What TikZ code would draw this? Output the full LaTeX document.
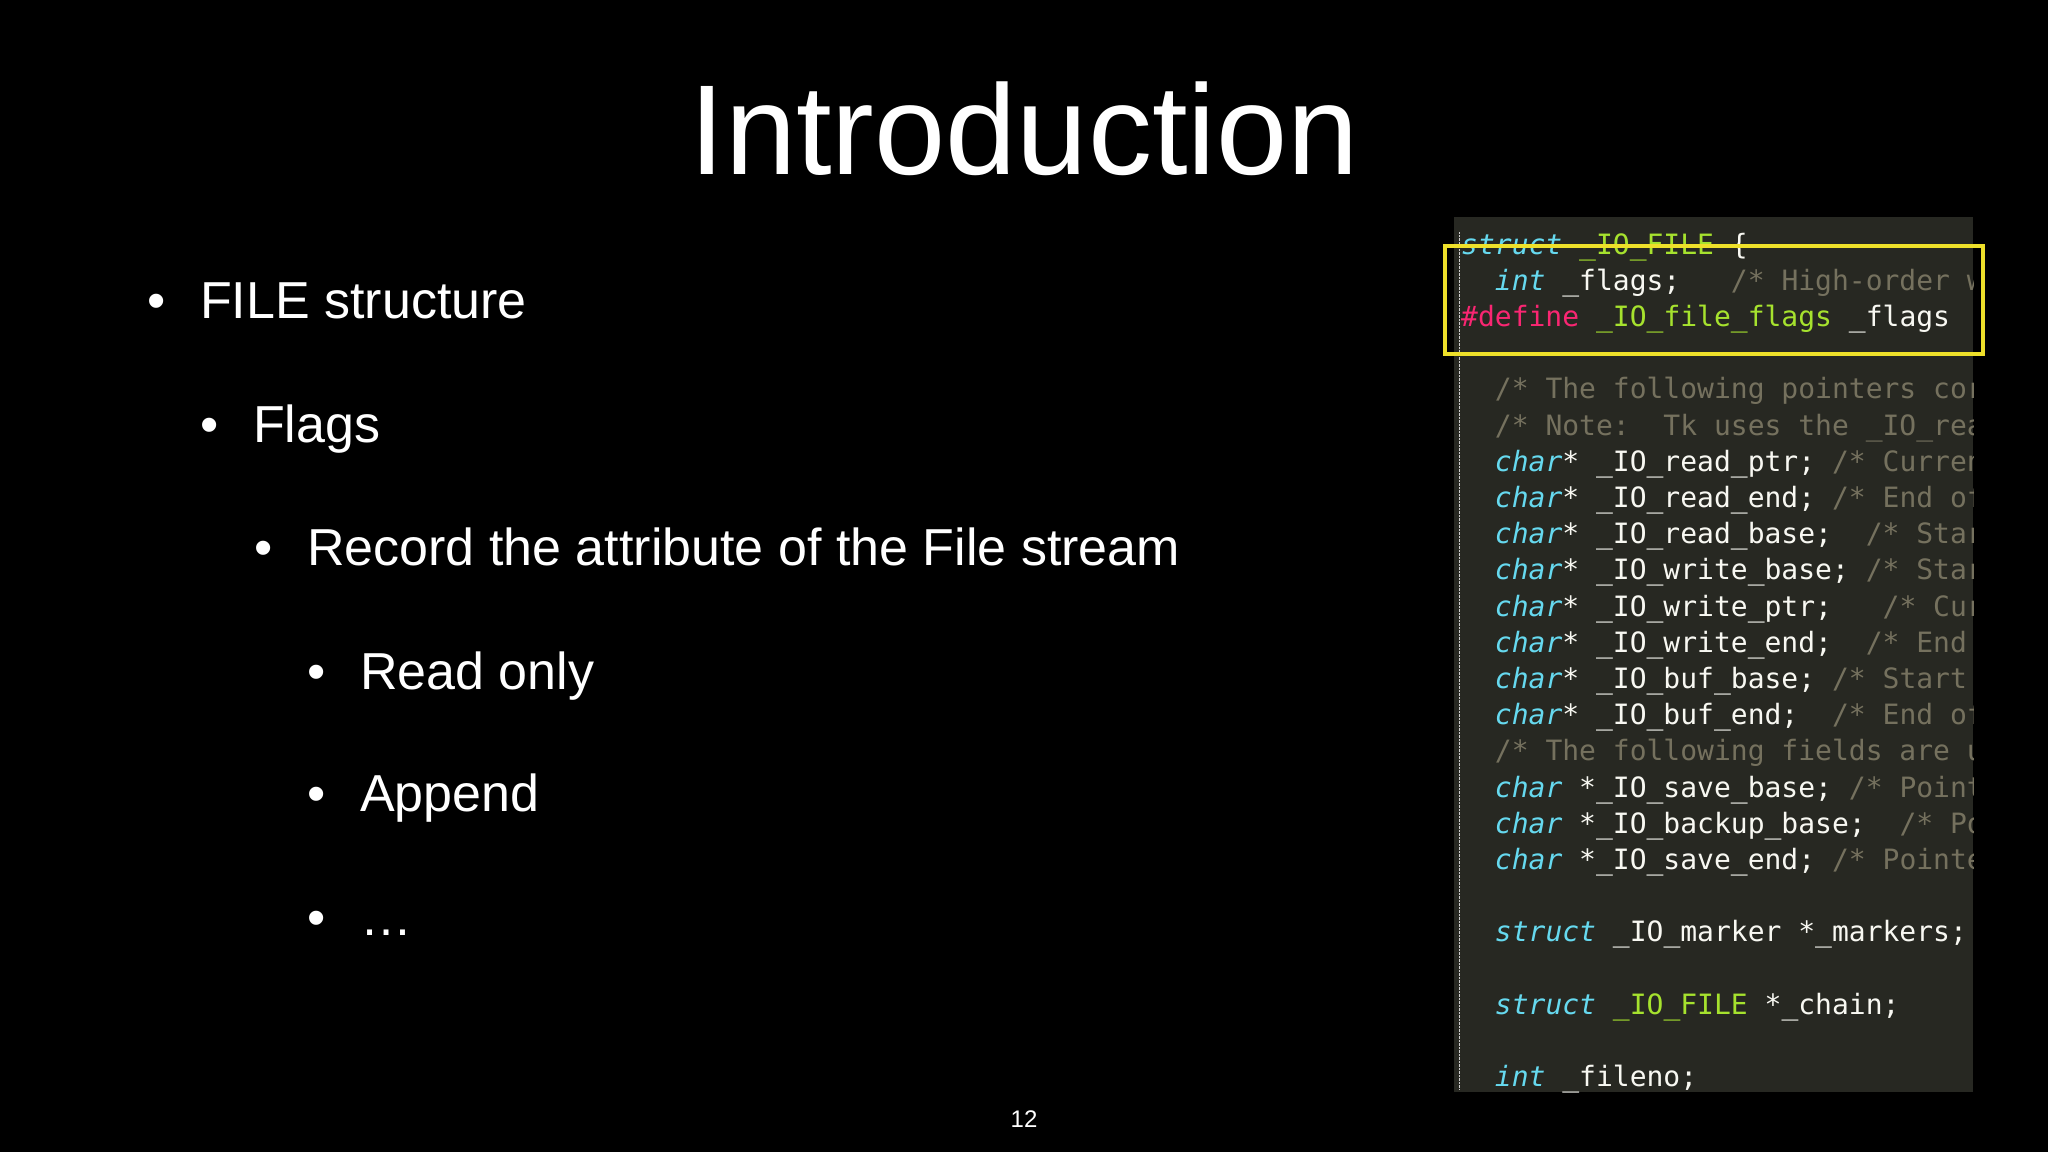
\documentclass[tikz,border=0pt]{standalone}
\usepackage{fontspec}
\setmainfont{Liberation Sans}
\newfontfamily\codef{DejaVu Sans Mono}
\definecolor{pbg}{HTML}{272822}
\definecolor{kwc}{HTML}{66D9EF}
\definecolor{grc}{HTML}{A6E22E}
\definecolor{pkc}{HTML}{F92672}
\definecolor{cmc}{HTML}{75715E}
\definecolor{txc}{HTML}{F8F8F2}
\definecolor{ylc}{HTML}{EEE02A}
\newcommand\kw[1]{\textcolor{kwc}{\itshape #1}}
\newcommand\gr[1]{\textcolor{grc}{#1}}
\newcommand\cm[1]{\textcolor{cmc}{#1}}
\newcommand\us{\_}
\begin{document}
\begin{tikzpicture}[x=1pt,y=-1pt,
  bul/.style={anchor=base west,text=white,font=\fontsize{52}{60}\selectfont,inner sep=0pt},
  dot/.style={anchor=base,text=white,font=\fontsize{52}{60}\selectfont,inner sep=0pt},
  cl/.style={anchor=base west,text=txc,font=\codef\fontsize{28}{32}\selectfont,inner sep=0pt}]
\fill[black] (0,0) rectangle (2048,1152);
\useasboundingbox (0,0) rectangle (2048,1152);
\node[anchor=base,text=white,font=\fontsize{128}{134}\selectfont,inner sep=0pt] (title) at (1024,174) {Introduction};
\node[dot] (d1) at (157,318) {•}; \node[bul] (t1) at (200,318) {FILE structure};
\node[dot] (d2) at (210,442) {•}; \node[bul] (t2) at (253,442) {Flags};
\node[dot] (d3) at (264,565) {•}; \node[bul] (t3) at (307,565) {Record the attribute of the File stream};
\node[dot] (d4) at (317,689) {•}; \node[bul] (t4) at (360,689) {Read only};
\node[dot] (d5) at (317,811) {•}; \node[bul] (t5) at (360,811) {Append};
\node[dot] (d6) at (317,935) {•}; \node[bul] (t6) at (360,935) {\ldots};
\node[anchor=base,text=white,font=\fontsize{24}{28}\selectfont,inner sep=0pt] (pg) at (1024,1127) {12};
\fill[pbg] (1454,217) rectangle (1973,1092);
\draw[gray!40,densely dotted] (1459,232) -- (1459,1090);
\begin{scope}
\clip (1454,217) rectangle (1973,1092);
\def\bx{1461}
\node[cl] (l0) at (\bx,{242+0*36.2+12}) {\kw{struct} \gr{\us IO\us FILE} \{};
\node[cl] (l1) at (\bx,{242+1*36.2+12}) {~~\kw{int} \us flags;~~~\cm{/* High-order word is \us IO\us MAGIC}};
\node[cl] (l2) at (\bx,{242+2*36.2+12}) {\textcolor{pkc}{\#define} \gr{\us IO\us file\us flags} \us flags};
\node[cl] (l4) at (\bx,{242+4*36.2+12}) {~~\cm{/* The following pointers correspond}};
\node[cl] (l5) at (\bx,{242+5*36.2+12}) {~~\cm{/* Note:~~Tk uses the \us IO\us read\us ptr}};
\node[cl] (l6) at (\bx,{242+6*36.2+12}) {~~\kw{char}* \us IO\us read\us ptr; \cm{/* Current read}};
\node[cl] (l7) at (\bx,{242+7*36.2+12}) {~~\kw{char}* \us IO\us read\us end; \cm{/* End of get}};
\node[cl] (l8) at (\bx,{242+8*36.2+12}) {~~\kw{char}* \us IO\us read\us base;~~\cm{/* Start of}};
\node[cl] (l9) at (\bx,{242+9*36.2+12}) {~~\kw{char}* \us IO\us write\us base; \cm{/* Start of}};
\node[cl] (l10) at (\bx,{242+10*36.2+12}) {~~\kw{char}* \us IO\us write\us ptr;~~~\cm{/* Current}};
\node[cl] (l11) at (\bx,{242+11*36.2+12}) {~~\kw{char}* \us IO\us write\us end;~~\cm{/* End of}};
\node[cl] (l12) at (\bx,{242+12*36.2+12}) {~~\kw{char}* \us IO\us buf\us base; \cm{/* Start of}};
\node[cl] (l13) at (\bx,{242+13*36.2+12}) {~~\kw{char}* \us IO\us buf\us end;~~\cm{/* End of}};
\node[cl] (l14) at (\bx,{242+14*36.2+12}) {~~\cm{/* The following fields are used}};
\node[cl] (l15) at (\bx,{242+15*36.2+12}) {~~\kw{char} *\us IO\us save\us base; \cm{/* Pointer}};
\node[cl] (l16) at (\bx,{242+16*36.2+12}) {~~\kw{char} *\us IO\us backup\us base;~~\cm{/* Pointer}};
\node[cl] (l17) at (\bx,{242+17*36.2+12}) {~~\kw{char} *\us IO\us save\us end; \cm{/* Pointer}};
\node[cl] (l19) at (\bx,{242+19*36.2+12}) {~~\kw{struct} \us IO\us marker *\us markers;};
\node[cl] (l21) at (\bx,{242+21*36.2+12}) {~~\kw{struct} \gr{\us IO\us FILE} *\us chain;};
\node[cl] (l23) at (\bx,{242+23*36.2+12}) {~~\kw{int} \us fileno;};
\end{scope}
\draw[ylc,line width=4pt] (1445,246) rectangle (1983,354);
\end{tikzpicture}
\end{document}
